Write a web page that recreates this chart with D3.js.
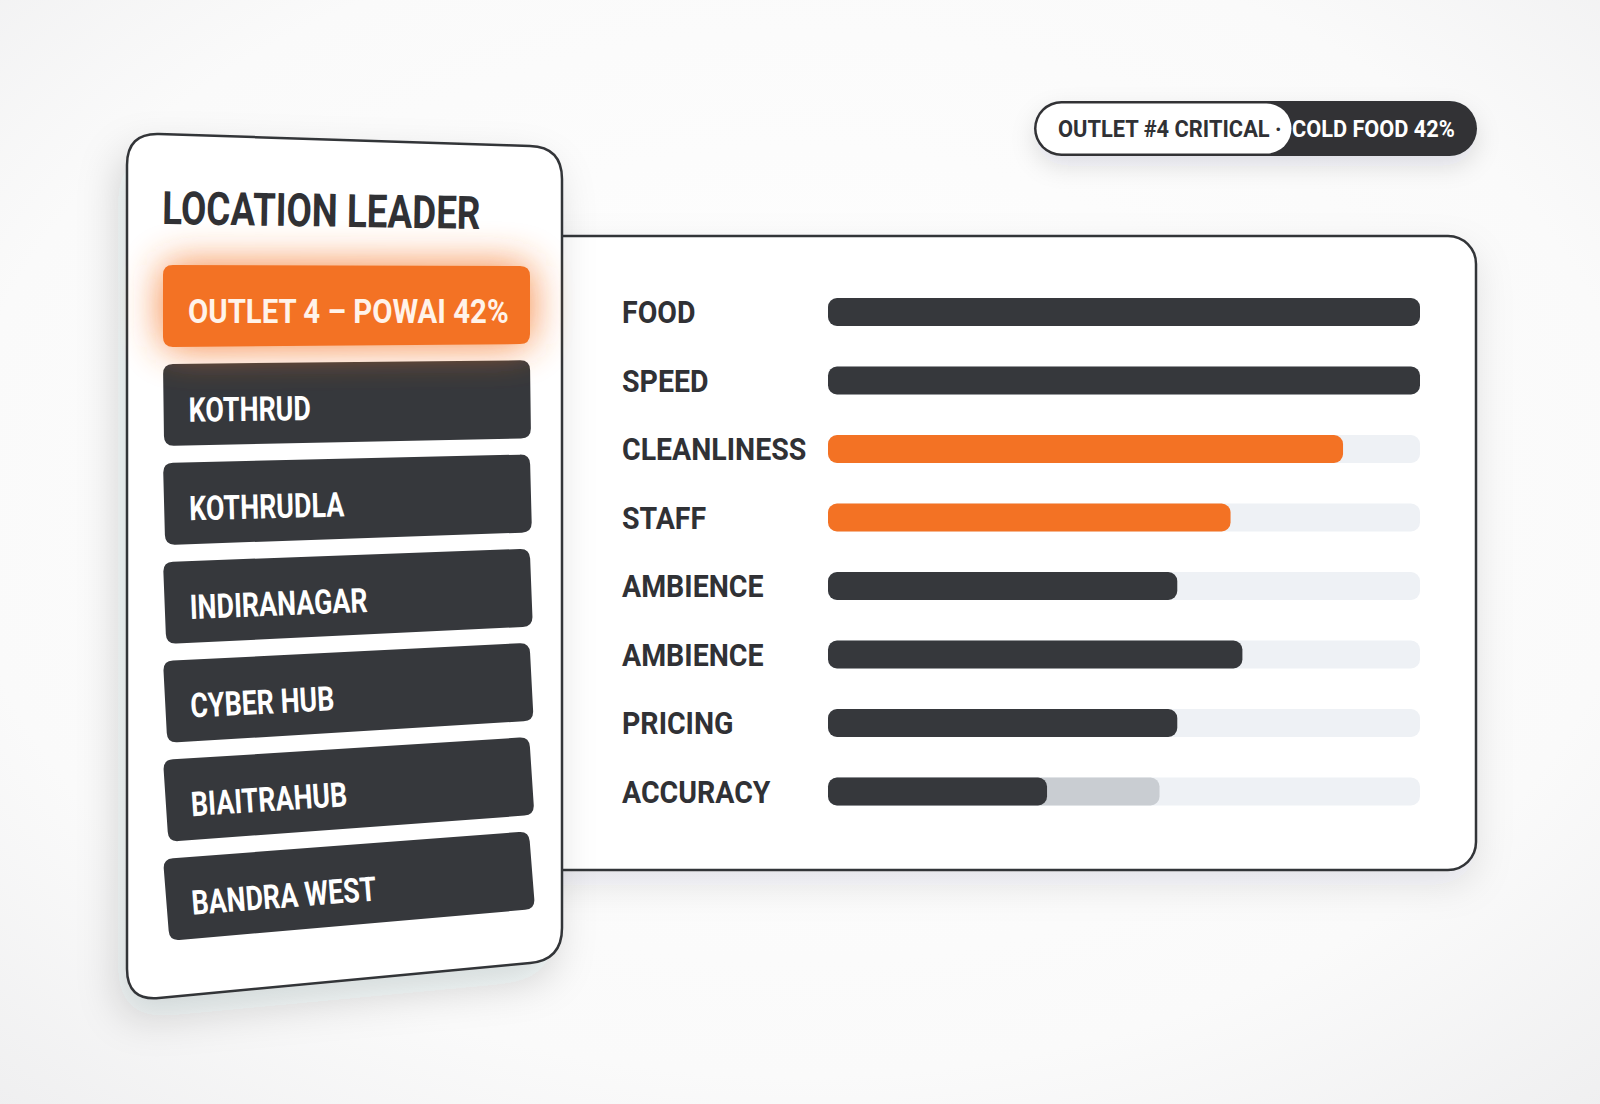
<!DOCTYPE html>
<html><head><meta charset="utf-8">
<script src="https://cdn.jsdelivr.net/npm/d3@7"></script>
<style>
html,body{margin:0;padding:0;background:#f6f6f7;}
svg{display:block;font-family:Roboto,"Liberation Sans",sans-serif;}
</style>
</head><body><div id="chart"></div>
<script>
// ---------- data ----------
const title = "LOCATION LEADER";
const locations = ["OUTLET 4 – POWAI 42%", "KOTHRUD", "KOTHRUDLA", "INDIRANAGAR", "CYBER HUB", "BIAITRAHUB", "BANDRA WEST"];
const locationActive = [true, false, false, false, false, false, false];
const metrics = ["FOOD", "SPEED", "CLEANLINESS", "STAFF", "AMBIENCE", "AMBIENCE", "PRICING", "ACCURACY"];
const scores = [100, 100, 87, 68, 59, 70, 59, 37];
const pending = [0, 0, 0, 0, 0, 0, 0, 19];
const flagged = [false, false, true, true, false, false, false, false];
const alertLabel = "OUTLET #4 CRITICAL ·";
const alertValue = "COLD FOOD 42%";

// ---------- style ----------
const W = 1600, H = 1104;
const DARK = "#36383c", ORANGE = "#f37224", TRACK = "#eef1f5", GREY = "#c9cdd2", INK = "#303135", LINE = "#333438";

const svg = d3.select("#chart").append("svg").attr("width", W).attr("height", H);
const defs = svg.append("defs");

const bg = defs.append("radialGradient").attr("id", "bg").attr("cx", "50%").attr("cy", "45%").attr("r", "75%");
bg.append("stop").attr("offset", "0%").attr("stop-color", "#ffffff");
bg.append("stop").attr("offset", "70%").attr("stop-color", "#fafafa");
bg.append("stop").attr("offset", "100%").attr("stop-color", "#efeff0");
svg.append("rect").attr("width", W).attr("height", H).attr("fill", "url(#bg)");

function shadow(id, dx, dy, sd, op) {
  const f = defs.append("filter").attr("id", id).attr("x", "-40%").attr("y", "-60%").attr("width", "180%").attr("height", "220%");
  f.append("feDropShadow").attr("dx", dx).attr("dy", dy).attr("stdDeviation", sd)
    .attr("flood-color", "#1c2030").attr("flood-opacity", op);
}
shadow("shPanel", 0, 14, 18, 0.10);
shadow("shCard", -8, 18, 20, 0.16);
shadow("shPill", 0, 10, 12, 0.12);
defs.append("filter").attr("id", "glow").attr("x", "-50%").attr("y", "-100%").attr("width", "200%").attr("height", "300%")
  .append("feGaussianBlur").attr("stdDeviation", 20);

function roundedPoly(pts, r) {
  const n = pts.length;
  let d = "";
  for (let i = 0; i < n; i++) {
    const p0 = pts[(i - 1 + n) % n], p1 = pts[i], p2 = pts[(i + 1) % n];
    const a = unit(p1, p0), b = unit(p1, p2);
    const s = [p1[0] + a[0] * r, p1[1] + a[1] * r], e = [p1[0] + b[0] * r, p1[1] + b[1] * r];
    d += (i === 0 ? "M" : "L") + s[0] + "," + s[1] + "Q" + p1[0] + "," + p1[1] + " " + e[0] + "," + e[1];
  }
  return d + "Z";
  function unit(p, q) { const dx = q[0] - p[0], dy = q[1] - p[1], l = Math.hypot(dx, dy); return [dx / l, dy / l]; }
}

// ---------- right panel with bars ----------
svg.append("rect").attr("x", 520).attr("y", 236).attr("width", 956).attr("height", 634).attr("rx", 28)
  .attr("fill", "#ffffff").attr("stroke", LINE).attr("stroke-width", 2.5).attr("filter", "url(#shPanel)");

const x = d3.scaleLinear().domain([0, 100]).range([828, 1420]);
const y = d3.scalePoint().domain(d3.range(metrics.length)).range([312, 791.5]);
const barH = 28;

const rows = svg.append("g").selectAll("g").data(metrics.map((m, i) => ({m, i, v: scores[i], p: pending[i], f: flagged[i]})))
  .join("g");
rows.append("rect").attr("x", x(0)).attr("y", d => y(d.i) - barH / 2).attr("width", x(100) - x(0)).attr("height", barH)
  .attr("rx", 9).attr("fill", TRACK);
rows.filter(d => d.p > 0).append("rect").attr("x", x(0)).attr("y", d => y(d.i) - barH / 2)
  .attr("width", d => x(d.v + d.p) - x(0)).attr("height", barH).attr("rx", 9).attr("fill", GREY);
rows.append("rect").attr("x", x(0)).attr("y", d => y(d.i) - barH / 2).attr("width", d => x(d.v) - x(0)).attr("height", barH)
  .attr("rx", 9).attr("fill", d => d.f ? ORANGE : DARK);
rows.append("text").attr("transform", d => `translate(622,${y(d.i) + 11}) scale(0.92,1)`)
  .attr("font-size", 31).attr("font-weight", 700).attr("fill", INK).text(d => d.m);

// ---------- left card ----------
const card = svg.append("g");
card.append("path").attr("d", roundedPoly([[127, 133], [562, 147], [562, 960], [127, 1001]], 32))
  .attr("fill", "#ffffff").attr("stroke", LINE).attr("stroke-width", 2.5).attr("filter", "url(#shCard)");
card.append("text").attr("transform", "translate(162,224) rotate(0.9) scale(0.8,1)")
  .attr("font-size", 46).attr("font-weight", 700).attr("fill", INK).text(title);

const rowTop = d3.scaleLinear().domain([0, locations.length - 1]).range([265, 859]);
const rowTilt = d3.scaleLinear().domain([0, locations.length - 1]).range([0, -4.5]);
const rowShape = roundedPoly([[0, 0], [367, 1], [367, 79], [0, 82]], 10);
const locData = locations.map((name, i) => ({name, i, active: locationActive[i]}));
const order = locData.filter(d => !d.active).concat(locData.filter(d => d.active));

const lg = card.append("g").selectAll("g").data(order).join("g")
  .attr("transform", d => `translate(163,${rowTop(d.i)}) rotate(${rowTilt(d.i)})`);
lg.filter(d => d.active).append("path").attr("d", rowShape).attr("fill", "#f57a2e").attr("opacity", 0.95).attr("filter", "url(#glow)");
lg.append("path").attr("d", rowShape).attr("fill", d => d.active ? ORANGE : DARK);
lg.append("text").attr("transform", d => `translate(25,58) scale(${d.active ? 0.865 : 0.79},1)`)
  .attr("font-size", 34).attr("font-weight", 700).attr("fill", d => d.active ? "#fff3ea" : "#ffffff").text(d => d.name);

// ---------- alert pill ----------
const pill = svg.append("g");
pill.append("rect").attr("x", 1034).attr("y", 101).attr("width", 443).attr("height", 55).attr("rx", 27.5)
  .attr("fill", "#303236").attr("filter", "url(#shPill)");
pill.append("rect").attr("x", 1036.5).attr("y", 103.5).attr("width", 255).attr("height", 50).attr("rx", 25)
  .attr("fill", "#ffffff");
pill.append("text").attr("transform", "translate(1058,137) scale(0.95,1)")
  .attr("font-size", 23).attr("font-weight", 700).attr("fill", INK).text(alertLabel);
pill.append("text").attr("transform", "translate(1292,137) scale(0.945,1)")
  .attr("font-size", 23).attr("font-weight", 700).attr("fill", "#ffffff").text(alertValue);
</script>
</body></html>
